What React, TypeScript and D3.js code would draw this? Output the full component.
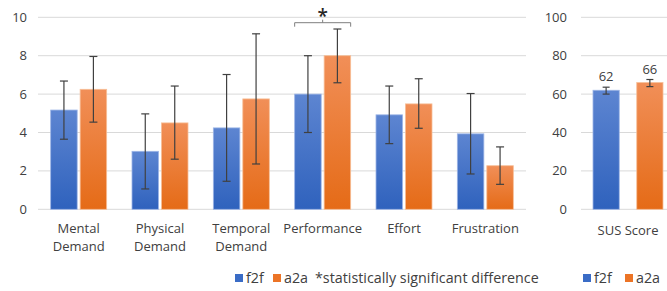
import React, { useEffect, useRef } from "react";
import * as d3 from "d3";

// NASA-TLX sub-scales
const categories = [
  ["Mental", "Demand"],
  ["Physical", "Demand"],
  ["Temporal", "Demand"],
  ["Performance"],
  ["Effort"],
  ["Frustration"],
];
const f2fMean = [5.17, 3.02, 4.24, 6.0, 4.92, 3.93];
const f2fLow = [3.65, 1.06, 1.46, 4.0, 3.42, 1.84];
const f2fHigh = [6.68, 4.97, 7.02, 8.0, 6.42, 6.03];
const a2aMean = [6.25, 4.5, 5.75, 8.0, 5.49, 2.27];
const a2aLow = [4.54, 2.61, 2.36, 6.59, 4.22, 1.3];
const a2aHigh = [7.96, 6.42, 9.14, 9.39, 6.8, 3.25];
const leftTicks = [0, 2, 4, 6, 8, 10];

// SUS
const susCategory = ["SUS Score"];
const susMean = [62, 66];
const susLow = [60, 63.9];
const susHigh = [63.6, 67.6];
const rightTicks = [0, 20, 40, 60, 80, 100];

const series = ["f2f", "a2a"];
const FONT = "'Open Sans', sans-serif";

const App = () => {
  const svgRef = useRef<SVGSVGElement>(null);

  useEffect(() => {
    const w = 667;
    const h = 291;
    const svg = d3.select(svgRef.current).attr("width", w).attr("height", h);
    svg.selectAll("*").remove();

    const defs = svg.append("defs");
    const grad = (id: string, top: string, bottom: string) => {
      const g = defs.append("linearGradient").attr("id", id)
        .attr("x1", 0).attr("y1", 0).attr("x2", 0).attr("y2", 1);
      g.append("stop").attr("offset", "0%").attr("stop-color", top);
      g.append("stop").attr("offset", "100%").attr("stop-color", bottom);
    };
    grad("gBlue", "#5d85d1", "#2f62bd");
    grad("gOrange", "#f18f58", "#e56b17");
    const fills = ["url(#gBlue)", "url(#gOrange)"];
    const strokes = ["#9db5e6", "#f7bf98"];

    const y = d3.scaleLinear().domain([0, 10]).range([209.3, 17.3]);
    const y2 = d3.scaleLinear().domain([0, 100]).range([209.3, 17.3]);

    // ---------- left chart ----------
    const x = d3.scaleBand().domain(categories.map((_, i) => String(i))).range([38, 526]);
    const inner = d3.scaleBand().domain(series).range([0, 56]).paddingInner(0.1);
    const off = (x.bandwidth() - 56) / 2;

    const left = svg.append("g");
    left.selectAll(".grid").data(leftTicks).join("line")
      .attr("x1", 38).attr("x2", 526)
      .attr("y1", d => y(d)).attr("y2", d => y(d))
      .attr("stroke", "#d9d9d9").attr("stroke-width", 1);
    left.selectAll(".tick").data(leftTicks).join("text")
      .attr("x", 27).attr("y", d => y(d)).attr("dy", "0.35em")
      .attr("text-anchor", "end").attr("font-size", 13).attr("font-family", FONT)
      .attr("fill", "#404040").text(d => d);

    const rows = categories.map((_, i) => [
      { s: 0, v: f2fMean[i], lo: f2fLow[i], hi: f2fHigh[i] },
      { s: 1, v: a2aMean[i], lo: a2aLow[i], hi: a2aHigh[i] },
    ]);

    const groups = left.selectAll(".cat").data(rows).join("g")
      .attr("transform", (_, i) => `translate(${(x(String(i)) as number) + off},0)`);
    groups.selectAll("rect").data(d => d).join("rect")
      .attr("x", d => inner(series[d.s]) as number)
      .attr("width", inner.bandwidth())
      .attr("y", d => y(d.v))
      .attr("height", d => y(0) - y(d.v))
      .attr("fill", d => fills[d.s])
      .attr("stroke", d => strokes[d.s]).attr("stroke-width", 0.8);
    const eb = groups.selectAll(".err").data(d => d).join("g")
      .attr("transform", d => `translate(${(inner(series[d.s]) as number) + inner.bandwidth() / 2},0)`)
      .attr("stroke", "#404040").attr("stroke-width", 1.2);
    eb.append("line").attr("y1", d => y(d.lo)).attr("y2", d => y(d.hi));
    eb.append("line").attr("x1", -4).attr("x2", 4).attr("y1", d => y(d.lo)).attr("y2", d => y(d.lo));
    eb.append("line").attr("x1", -4).attr("x2", 4).attr("y1", d => y(d.hi)).attr("y2", d => y(d.hi));

    // category labels
    left.selectAll(".lab").data(categories).join("text")
      .attr("x", (_, i) => (x(String(i)) as number) + x.bandwidth() / 2)
      .attr("y", 228).attr("text-anchor", "middle")
      .attr("font-size", 13).attr("font-family", FONT).attr("fill", "#404040")
      .each(function (d) {
        d3.select(this).selectAll("tspan").data(d).join("tspan")
          .attr("x", d3.select(this).attr("x"))
          .attr("dy", (_, k) => (k === 0 ? "0.35em" : "1.45em"))
          .text(t => t);
      });

    // significance bracket over Performance
    const pi = 3;
    const bx0 = (x(String(pi)) as number) + off;
    const bx1 = bx0 + 56;
    const by = 22.7;
    left.append("path")
      .attr("d", `M${bx0},${by + 4}V${by}H${bx1}V${by + 4}M${(bx0 + bx1) / 2},${by}V${by - 3}`)
      .attr("fill", "none").attr("stroke", "#7f7f7f").attr("stroke-width", 1);
    left.append("text").attr("x", (bx0 + bx1) / 2).attr("y", 23)
      .attr("text-anchor", "middle").attr("font-size", 19).attr("font-weight", 600)
      .attr("font-family", FONT).attr("fill", "#262626").text("*");

    // ---------- right chart ----------
    const xr = d3.scaleBand().domain(susCategory).range([581, 675]);
    const innerR = d3.scaleBand().domain(series).range([12, 82]).paddingInner(0.4);
    const right = svg.append("g");
    right.selectAll(".grid").data(rightTicks).join("line")
      .attr("x1", 581).attr("x2", 667)
      .attr("y1", d => y2(d)).attr("y2", d => y2(d))
      .attr("stroke", "#d9d9d9").attr("stroke-width", 1);
    right.selectAll(".tick").data(rightTicks).join("text")
      .attr("x", 567).attr("y", d => y2(d)).attr("dy", "0.35em")
      .attr("text-anchor", "end").attr("font-size", 13).attr("font-family", FONT)
      .attr("fill", "#404040").text(d => d);
    const sus = susMean.map((v, s) => ({ s, v, lo: susLow[s], hi: susHigh[s] }));
    const rg = right.append("g").attr("transform", `translate(${xr("SUS Score")},0)`);
    rg.selectAll("rect").data(sus).join("rect")
      .attr("x", d => innerR(series[d.s]) as number)
      .attr("width", innerR.bandwidth())
      .attr("y", d => y2(d.v)).attr("height", d => y2(0) - y2(d.v))
      .attr("fill", d => fills[d.s])
      .attr("stroke", d => strokes[d.s]).attr("stroke-width", 0.8);
    const reb = rg.selectAll(".err").data(sus).join("g")
      .attr("transform", d => `translate(${(innerR(series[d.s]) as number) + innerR.bandwidth() / 2},0)`)
      .attr("stroke", "#404040").attr("stroke-width", 1.2);
    reb.append("line").attr("y1", d => y2(d.lo)).attr("y2", d => y2(d.hi));
    reb.append("line").attr("x1", -3.5).attr("x2", 3.5).attr("y1", d => y2(d.lo)).attr("y2", d => y2(d.lo));
    reb.append("line").attr("x1", -3.5).attr("x2", 3.5).attr("y1", d => y2(d.hi)).attr("y2", d => y2(d.hi));
    rg.selectAll(".val").data(sus).join("text")
      .attr("x", d => (innerR(series[d.s]) as number) + innerR.bandwidth() / 2)
      .attr("y", d => y2(d.hi) - 6).attr("text-anchor", "middle")
      .attr("font-size", 13).attr("font-family", FONT).attr("fill", "#404040")
      .text(d => d.v);
    right.append("text").attr("x", 628).attr("y", 230).attr("dy", "0.35em")
      .attr("text-anchor", "middle").attr("font-size", 13).attr("font-family", FONT)
      .attr("fill", "#404040").text("SUS Score");

    // ---------- legends ----------
    const legend = (x0: number, gap: number, extra: string | null) => {
      const lg = svg.append("g").attr("font-family", FONT).attr("font-size", 14.3).attr("fill", "#404040");
      const colors = ["#3a6cc6", "#ec7426"];
      series.forEach((s, i) => {
        lg.append("rect").attr("x", x0 + gap * i).attr("y", 274).attr("width", 8).attr("height", 8)
          .attr("fill", colors[i]);
        lg.append("text").attr("x", x0 + gap * i + 11).attr("y", 278).attr("dy", "0.35em").text(s);
      });
      if (extra) lg.append("text").attr("x", x0 + 80).attr("y", 278).attr("dy", "0.35em").text(extra);
    };
    legend(235, 38, "*statistically significant difference");
    legend(583, 42, null);
  }, []);

  return <svg ref={svgRef} style={{ position: "absolute", left: 0, top: 0 }}></svg>;
};

export default App;
